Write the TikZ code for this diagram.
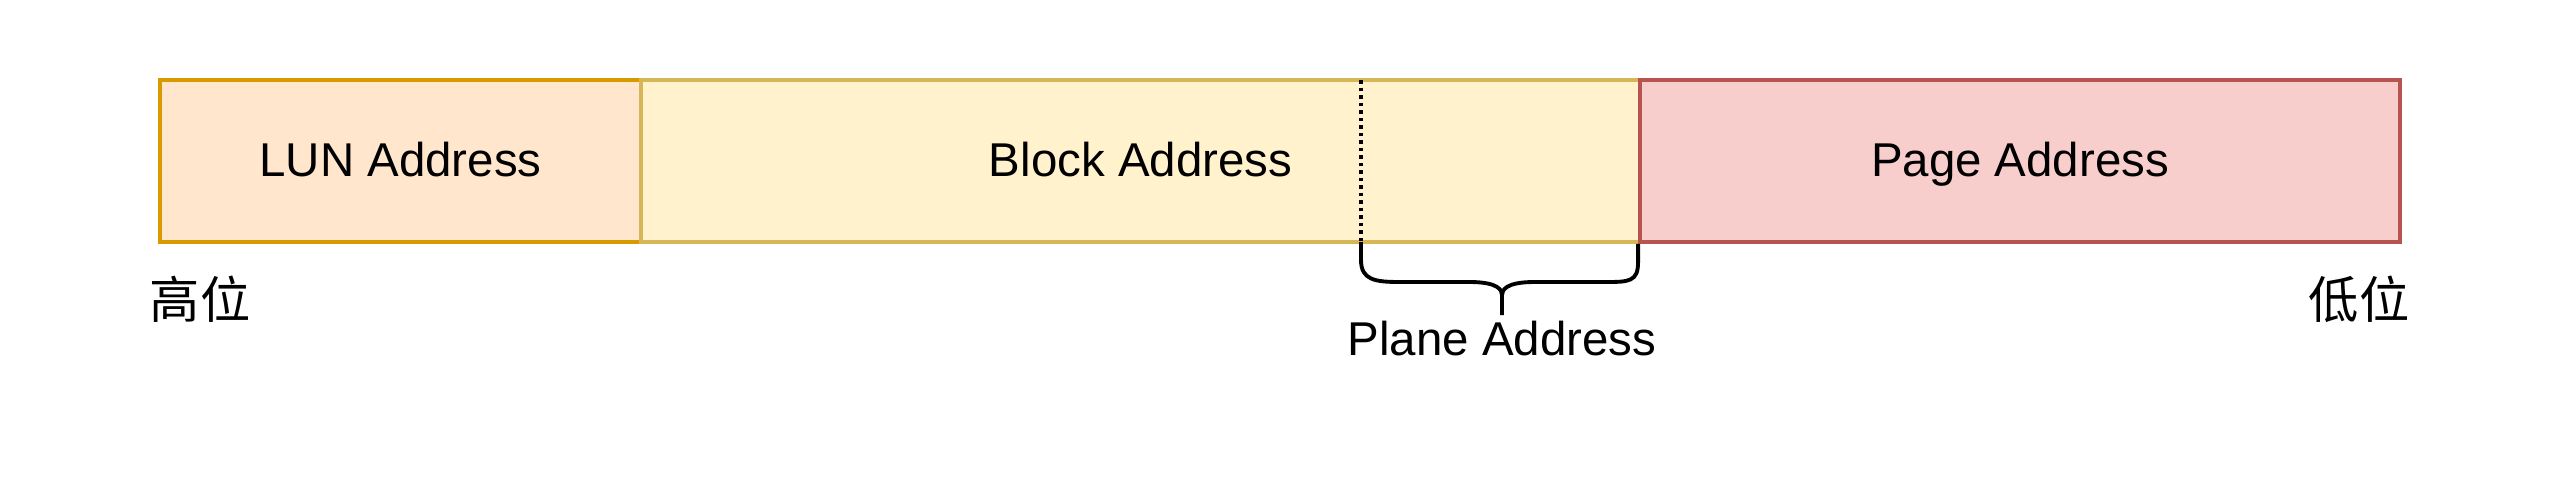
\documentclass[tikz,border=0pt]{standalone}
\usepackage{fontspec}
\setmainfont{Liberation Sans}
\newfontfamily\cjk{Noto Sans CJK SC}
\definecolor{lunfill}{HTML}{FFE6CC}
\definecolor{lunline}{HTML}{D79B00}
\definecolor{blockfill}{HTML}{FFF2CC}
\definecolor{blockline}{HTML}{D6B656}
\definecolor{pagefill}{HTML}{F8CECC}
\definecolor{pageline}{HTML}{B85450}
\begin{document}
\begin{tikzpicture}[
    field/.style={draw, line width=1.1pt, minimum height=1.62cm, inner sep=0pt, text height=0.86em, text depth=0pt, font=\fontsize{13.5}{16}\selectfont},
    label/.style={inner sep=0pt, font=\fontsize{13.5}{16}\selectfont}
  ]
    \useasboundingbox (0,0) rectangle (25.64,-4.84);
    \node[field, fill=lunfill, draw=lunline, minimum width=4.81cm] (lun) at (4.005,-1.61) {LUN Address};
    \node[field, fill=blockfill, draw=blockline, minimum width=9.99cm] (block) at (11.405,-1.61) {Block Address};
    \node[field, fill=pagefill, draw=pageline, minimum width=7.60cm] (page) at (20.20,-1.61) {Page Address};
    \coordinate (dtop) at (13.61,-0.80);
    \coordinate (dbot) at (13.61,-2.42);
    \draw[line width=1.1pt, dash pattern=on 0.35mm off 0.4mm] (dtop) -- (dbot);
    % brace under the plane bits
    \coordinate (tip) at (15.02,-3.15);
    \draw[line width=1.1pt] (dbot) -- ++(0,-0.18)
      .. controls ++(0,-0.2) and ++(-0.25,0) .. (14.00,-2.82) -- (14.70,-2.82)
      .. controls ++(0.28,0) and ++(0,0.05) .. (15.02,-2.95) -- (tip);
    \draw[line width=1.1pt] (page.south west) -- ++(0,-0.18)
      .. controls ++(0,-0.2) and ++(0.25,0) .. (16.04,-2.82) -- (15.34,-2.82)
      .. controls ++(-0.28,0) and ++(0,0.05) .. (15.02,-2.95);
    \node[label] (plane) at (15.02,-3.385) {Plane Address};
    \node[label, font=\fontsize{14.3}{17}\selectfont] (high) at (2.00,-2.99) {\cjk 高位};
    \node[label, font=\fontsize{14.3}{17}\selectfont] (low) at (23.59,-2.99) {\cjk 低位};
\end{tikzpicture}
\end{document}
